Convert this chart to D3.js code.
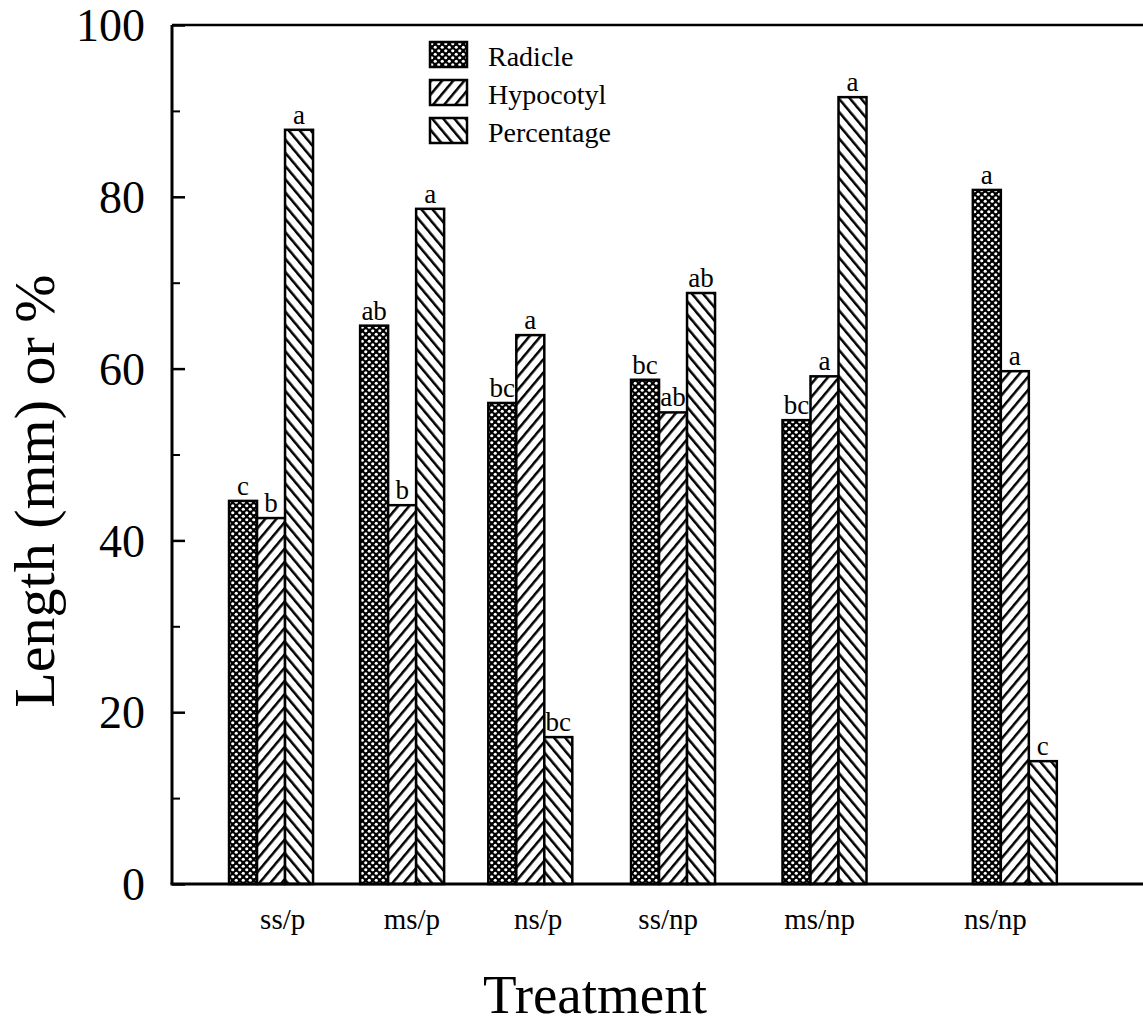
<!DOCTYPE html>
<html>
<head>
<meta charset="utf-8">
<script src="https://cdn.jsdelivr.net/npm/d3@7"></script>
<style>
    html, body { margin: 0; padding: 0; background: #fff; }
    svg { display: block; }
    text { font-family: "Liberation Serif", "DejaVu Serif", serif; fill: #000; }
</style>
</head>
<body>
<div id="chart"></div>
<script>
// Data
const treatments = ["ss/p", "ms/p", "ns/p", "ss/np", "ms/np", "ns/np"];
const groupPos = [1.02, 2.37, 3.69, 5.16, 6.72, 8.68];   // treatment positions on the x axis
const labelPos = [1.14, 2.47, 3.77, 5.11, 6.67, 8.48];   // tick label positions
const seriesNames = ["Radicle", "Hypocotyl", "Percentage"];
const radicle = [44.6, 65.0, 56.0, 58.7, 54.0, 80.8];
const hypocotyl = [42.6, 44.1, 63.9, 54.9, 59.1, 59.7];
const percentage = [87.8, 78.6, 17.1, 68.8, 91.6, 14.3];
const radicleLetters = ["c", "ab", "bc", "bc", "bc", "a"];
const hypocotylLetters = ["b", "b", "a", "ab", "a", "a"];
const percentageLetters = ["a", "a", "bc", "ab", "a", "c"];
const yMajor = [0, 20, 40, 60, 80, 100];
const yMinor = [10, 30, 50, 70, 90];

const W = 1143, H = 1024;
const plotLeft = 172, plotTop = 25, plotBottom = 884;
const barW = 28;

const svg = d3.select("#chart").append("svg")
    .attr("width", W)
    .attr("height", H);

// Fill patterns
const defs = svg.append("defs");

const dots = defs.append("pattern")
    .attr("id", "p-radicle")
    .attr("patternUnits", "userSpaceOnUse")
    .attr("width", 7).attr("height", 7);
dots.append("rect").attr("width", 7).attr("height", 7).attr("fill", "#000");
dots.append("circle").attr("cx", 1.75).attr("cy", 1.75).attr("r", 1.6).attr("fill", "#fff");
dots.append("circle").attr("cx", 5.25).attr("cy", 5.25).attr("r", 1.6).attr("fill", "#fff");

function hatch(id, angle) {
    const p = defs.append("pattern")
        .attr("id", id)
        .attr("patternUnits", "userSpaceOnUse")
        .attr("width", 8.5).attr("height", 8.5)
        .attr("patternTransform", `rotate(${angle})`);
    p.append("rect").attr("width", 8.5).attr("height", 8.5).attr("fill", "#fff");
    p.append("line")
        .attr("x1", 0).attr("y1", 0).attr("x2", 0).attr("y2", 8.5)
        .attr("stroke", "#000").attr("stroke-width", 5);
}
hatch("p-hypocotyl", 40);
hatch("p-percentage", -40);

const fills = ["url(#p-radicle)", "url(#p-hypocotyl)", "url(#p-percentage)"];

// Scales
const x = d3.scaleLinear().domain([0, 10]).range([plotLeft, W]);
const y = d3.scaleLinear().domain([0, 100]).range([plotBottom, plotTop]);

// Bars
const series = [radicle, hypocotyl, percentage];
const letters = [radicleLetters, hypocotylLetters, percentageLetters];
const bars = [];
series.forEach((vals, s) => {
    vals.forEach((v, i) => {
        bars.push({ s, i, v, letter: letters[s][i] });
    });
});

const barX = d => x(groupPos[d.i]) + (d.s - 1.5) * barW;

svg.append("g").selectAll("rect")
    .data(bars)
    .join("rect")
    .attr("x", barX)
    .attr("y", d => y(d.v))
    .attr("width", barW)
    .attr("height", d => y(0) - y(d.v))
    .attr("fill", d => fills[d.s])
    .attr("stroke", "#000")
    .attr("stroke-width", 2.5);

// Significance letters
svg.append("g").selectAll("text")
    .data(bars)
    .join("text")
    .attr("x", d => barX(d) + barW / 2)
    .attr("y", d => y(d.v) - 6)
    .attr("text-anchor", "middle")
    .style("font-size", "27px")
    .text(d => d.letter);

// Frame lines
svg.append("line")
    .attr("x1", plotLeft).attr("x2", plotLeft).attr("y1", plotTop).attr("y2", plotBottom)
    .attr("stroke", "#000").attr("stroke-width", 3);
svg.append("line")
    .attr("x1", plotLeft).attr("x2", W).attr("y1", plotTop).attr("y2", plotTop)
    .attr("stroke", "#000").attr("stroke-width", 2.5);
svg.append("line")
    .attr("x1", plotLeft - 1.5).attr("x2", W).attr("y1", plotBottom).attr("y2", plotBottom)
    .attr("stroke", "#000").attr("stroke-width", 3);

// Y axis (ticks point inward)
const yAxis = svg.append("g")
    .attr("transform", `translate(${plotLeft},0)`)
    .call(d3.axisLeft(y).tickValues(yMajor).tickSize(-13).tickPadding(27).tickFormat(d3.format("d")));
yAxis.select(".domain").remove();
yAxis.selectAll("line").attr("stroke-width", 2.5);
yAxis.selectAll("text")
    .style("font-size", "46px")
    .style("font-family", "'Liberation Serif', serif")
    .attr("dy", "0.34em");

const yMinorAxis = svg.append("g")
    .attr("transform", `translate(${plotLeft},0)`)
    .call(d3.axisLeft(y).tickValues(yMinor).tickSize(-8).tickFormat(""));
yMinorAxis.select(".domain").remove();
yMinorAxis.selectAll("line").attr("stroke-width", 2);

// X tick labels
svg.append("g").selectAll("text")
    .data(treatments)
    .join("text")
    .attr("x", (d, i) => x(labelPos[i]))
    .attr("y", 929)
    .attr("text-anchor", "middle")
    .style("font-size", "29px")
    .text(d => d);

// Axis titles
svg.append("text")
    .attr("x", 595)
    .attr("y", 1013)
    .attr("text-anchor", "middle")
    .style("font-size", "55px")
    .text("Treatment");

svg.append("text")
    .attr("transform", `translate(54, 491) rotate(-90)`)
    .attr("text-anchor", "middle")
    .style("font-size", "58px")
    .text("Length (mm) or %");

// Legend
const legend = svg.append("g").attr("transform", "translate(430, 42)");
const row = legend.selectAll("g")
    .data(seriesNames)
    .join("g")
    .attr("transform", (d, i) => `translate(0, ${i * 38})`);
row.append("rect")
    .attr("width", 37)
    .attr("height", 25)
    .attr("fill", (d, i) => fills[i])
    .attr("stroke", "#000")
    .attr("stroke-width", 2.5);
row.append("text")
    .attr("x", 58)
    .attr("y", 24)
    .style("font-size", "28px")
    .text(d => d);
</script>
</body>
</html>
